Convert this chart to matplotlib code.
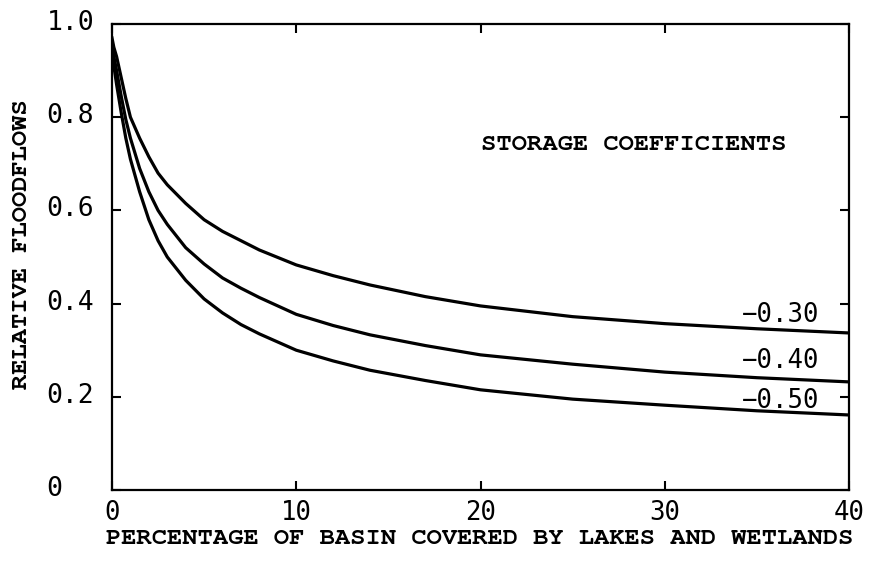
import matplotlib
matplotlib.use("Agg")
import matplotlib.pyplot as plt
from matplotlib.transforms import ScaledTranslation

# values
pct = [0, 0.1, 0.25, 0.5, 0.75, 1, 1.5, 2, 2.5, 3, 4, 5, 6, 7, 8,
       10, 12, 14, 17, 20, 25, 30, 35, 40]
flow_30 = [0.97, 0.95, 0.93, 0.885, 0.84, 0.80, 0.755, 0.715, 0.68, 0.655, 0.615, 0.58,
           0.555, 0.535, 0.515, 0.483, 0.46, 0.44, 0.415, 0.395, 0.372, 0.357, 0.346, 0.337]
flow_40 = [0.96, 0.93, 0.90, 0.845, 0.795, 0.755, 0.69, 0.64, 0.60, 0.57, 0.52, 0.485,
           0.455, 0.433, 0.413, 0.377, 0.353, 0.333, 0.31, 0.29, 0.27, 0.253, 0.241, 0.232]
flow_50 = [0.96, 0.91, 0.87, 0.81, 0.755, 0.71, 0.64, 0.58, 0.535, 0.50, 0.45, 0.41,
           0.38, 0.355, 0.335, 0.30, 0.277, 0.257, 0.235, 0.215, 0.195, 0.182, 0.17, 0.161]
curve_labels = ["\u22120.30", "\u22120.40", "\u22120.50"]
label_y = [0.375, 0.277, 0.19]

xticks = [0, 10, 20, 30, 40]
yticks = [0, 0.2, 0.4, 0.6, 0.8, 1.0]
ytick_labels = ["0", "0.2", "0.4", "0.6", "0.8", "1.0"]

# typewriter serif for the words, sans mono for the numbers
typewriter = ["FreeMono", "Cutive Mono", "DejaVu Sans Mono"]
numfont = "DejaVu Sans Mono"

fig = plt.figure(figsize=(8.72, 5.66), dpi=100)
ax = fig.add_axes([112 / 872, 1 - 490 / 566, (849 - 112) / 872, (490 - 24) / 566])

for ys in (flow_30, flow_40, flow_50):
    ax.plot(pct, ys, color="black", lw=2.3, solid_joinstyle="round")

ax.set_xlim(0, 40)
ax.set_ylim(0, 1.0)
for s in ax.spines.values():
    s.set_linewidth(1.6)

ax.set_xticks(xticks)
ax.set_xticklabels([str(t) for t in xticks], fontfamily=numfont, fontsize=18.5)
ax.set_yticks(yticks)
ax.set_yticklabels(ytick_labels, fontfamily=numfont, fontsize=19)
ax.tick_params(direction="in", length=6.5, width=1.5, top=True, right=True)
ax.tick_params(axis="x", pad=7)
ax.tick_params(axis="y", pad=47)
shift_up = ScaledTranslation(0, 0.04, fig.dpi_scale_trans)
for lab in ax.get_yticklabels():
    lab.set_ha("left")
    lab.set_transform(lab.get_transform() + shift_up)

ax.text(20, 0.74, "STORAGE COEFFICIENTS", fontfamily=typewriter, fontsize=18.3,
        fontweight="bold", ha="left", va="center")
for txt, yy in zip(curve_labels, label_y):
    ax.text(38.4, yy, txt, fontfamily=numfont, fontsize=18.5, ha="right", va="center")

fig.text(480 / 872, 1 - 539 / 566, "PERCENTAGE OF BASIN COVERED BY LAKES AND WETLANDS",
         fontfamily=typewriter, fontsize=18.3, fontweight="bold",
         ha="center", va="center")
fig.text(22 / 872, 1 - 244 / 566, "RELATIVE FLOODFLOWS", fontfamily=typewriter,
         fontsize=18.3, fontweight="bold", rotation=90, ha="center", va="center")

fig.savefig("out.png", dpi=100)
